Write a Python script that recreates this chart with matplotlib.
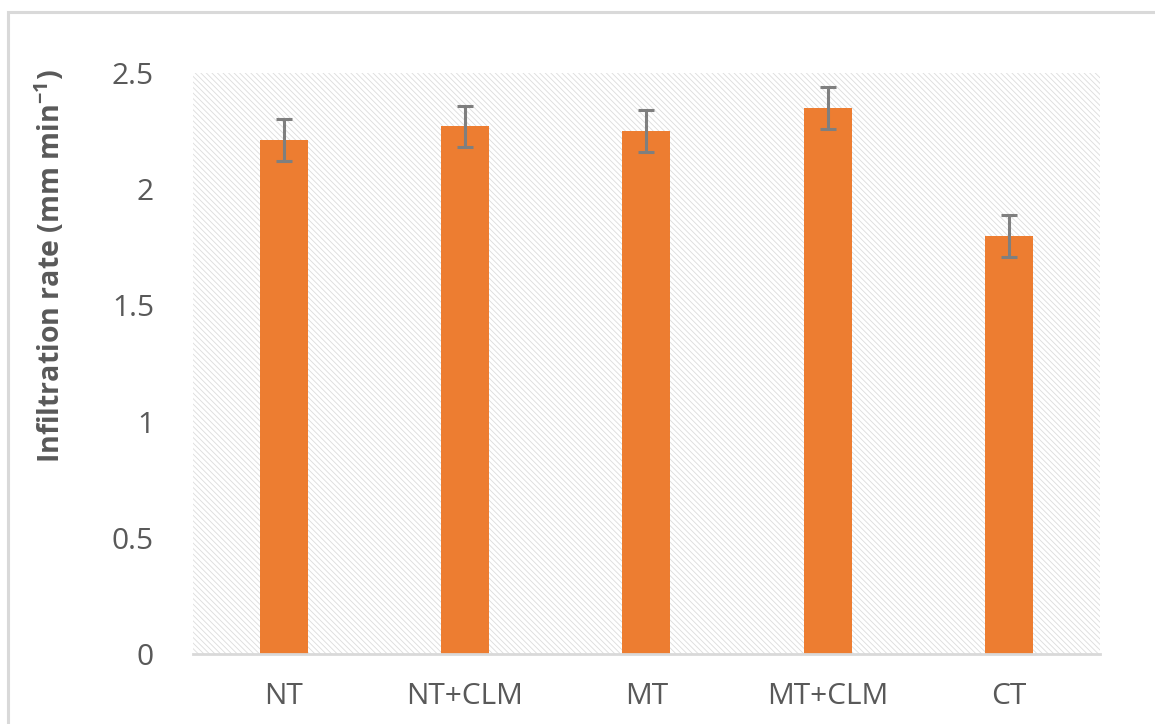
import matplotlib.pyplot as plt
from matplotlib.patches import Rectangle

categories = ['NT', 'NT+CLM', 'MT', 'MT+CLM', 'CT']
rates = [2.21, 2.27, 2.25, 2.35, 1.80]
errors = [0.09, 0.09, 0.09, 0.09, 0.09]
yticks = [0, 0.5, 1, 1.5, 2, 2.5]
ytick_labels = ['0', '0.5', '1', '1.5', '2', '2.5']

plt.rcParams['font.family'] = ['Open Sans', 'DejaVu Sans']
plt.rcParams['hatch.linewidth'] = 0.6

fig = plt.figure(figsize=(11.55, 7.24), dpi=100)
# outer chart frame
fig.patches.append(Rectangle((8 / 1155, -0.1), 1.2, 1 - 12 / 724 + 0.1,
                             transform=fig.transFigure, fill=False,
                             edgecolor='#d9d9d9', linewidth=2.2))

ax = fig.add_axes([0.167, 0.0967, 0.785, 0.8025])
ax.patch.set_visible(False)
ax.add_patch(Rectangle((0, 0), 1, 1, transform=ax.transAxes, facecolor='white',
                       edgecolor='#dcdcdc', linewidth=0, hatch='\\\\\\\\\\\\',
                       zorder=0))

x = range(len(categories))
ax.bar(x, rates, width=0.265, color='#ed7d31', zorder=2)
ax.errorbar(x, rates, yerr=errors, fmt='none', ecolor='#7f7f7f',
            elinewidth=2.2, capsize=6, capthick=2.2, zorder=3)

ax.set_xlim(-0.5, len(categories) - 0.5)
ax.set_ylim(0, 2.5)
ax.set_yticks(yticks)
ax.set_yticklabels(ytick_labels)
ax.set_xticks(list(x))
ax.set_xticklabels(categories)
ax.tick_params(axis='both', length=0, labelsize=21.5, colors='#595959')
ax.tick_params(axis='y', pad=28)
ax.tick_params(axis='x', pad=20)

for side in ['top', 'right', 'left']:
    ax.spines[side].set_visible(False)
ax.spines['bottom'].set_color('#d9d9d9')
ax.spines['bottom'].set_linewidth(2)

ax.set_ylabel('Infiltration rate (mm min$^{\\mathregular{-1}}$)', fontsize=20.5,
              fontweight='bold', color='#595959')
ax.yaxis.set_label_coords(-0.139, 0.668)

fig.savefig('out.png', dpi=100)
